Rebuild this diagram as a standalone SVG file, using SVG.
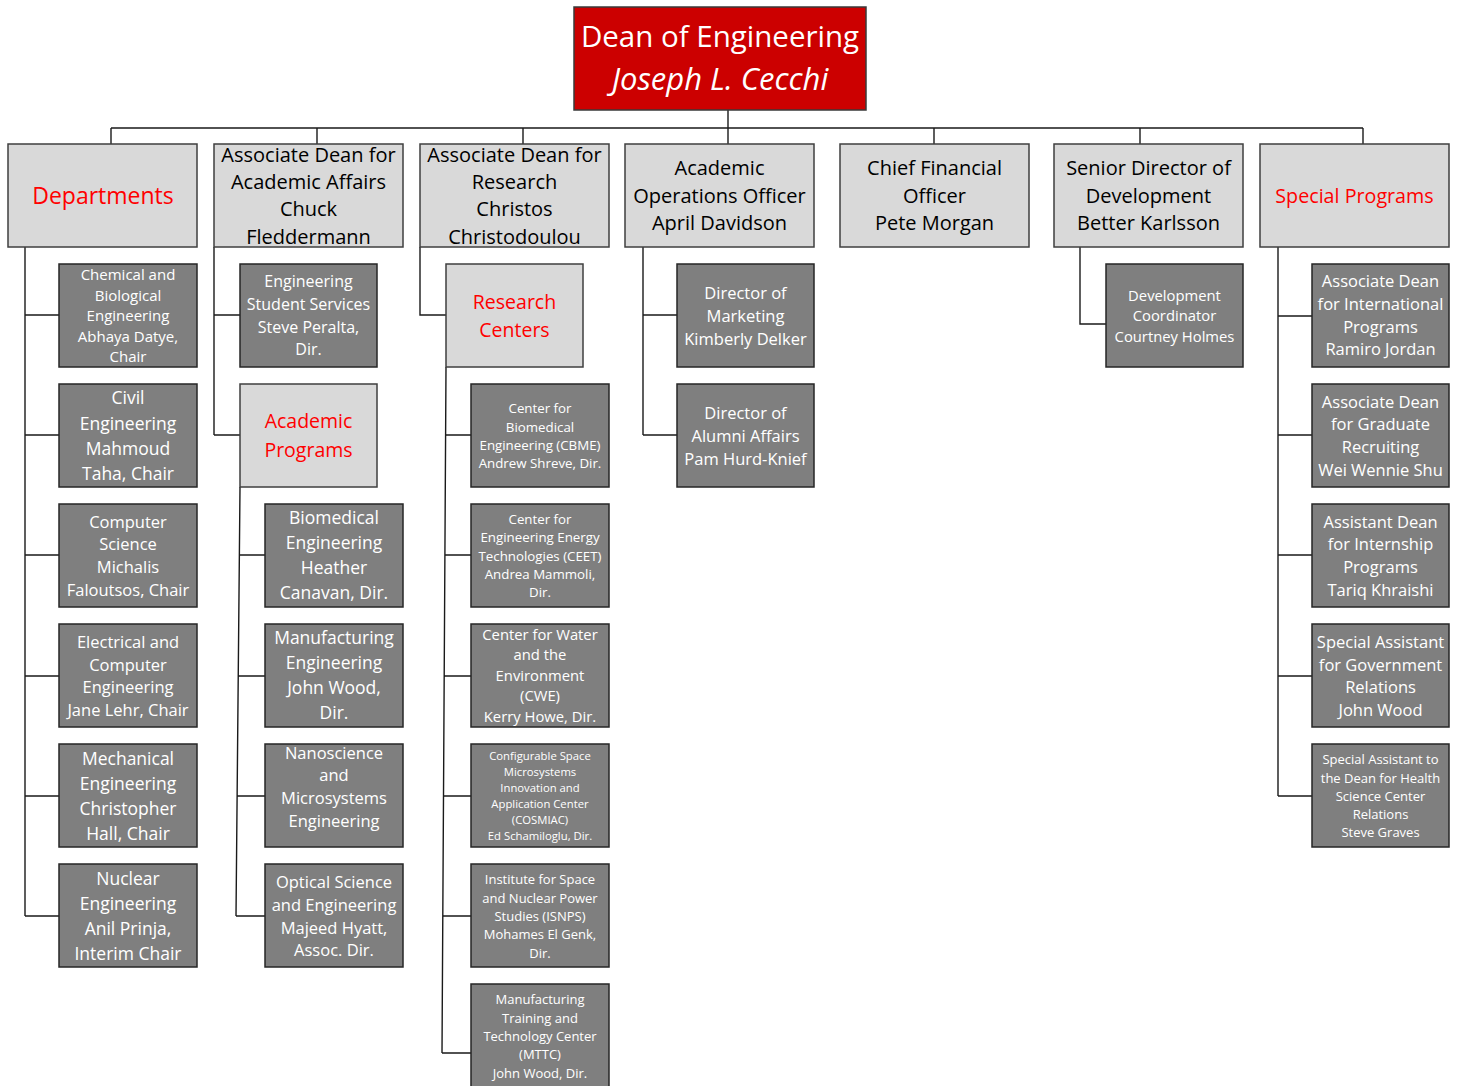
<svg xmlns="http://www.w3.org/2000/svg" width="1459" height="1086" viewBox="0 0 1459 1086">
  <style>
    text { font-family: "Open Sans", "Noto Sans", "Liberation Sans", sans-serif; text-anchor: middle; }
    .dean { fill: #cc0000; stroke: #3a3a3a; stroke-width: 1.5; }
    .lt { fill: #d9d9d9; stroke: #3f3f3f; stroke-width: 1.5; }
    .dk { fill: #7f7f7f; stroke: #262626; stroke-width: 1.5; }
    .tw { fill: #ffffff; }
    .tb { fill: #000000; font-size: 20px; }
    .tr { fill: #ff0000; }
    .conn { fill: none; stroke: #1a1a1a; stroke-width: 1.4; }
  </style>

  <!-- connectors -->
  <g id="connectors" class="conn">
    <path d="M728 110 V128 M111 128 H1363 M111 128 V144 M317 128 V144 M523 128 V144 M728 128 V144 M934 128 V144 M1140 128 V144 M1363 128 V144"/>
    <!-- departments -->
    <path d="M25 247 V916 M25 315 H59 M25 435 H59 M25 555 H59 M25 676 H59 M25 796 H59 M25 916 H59"/>
    <!-- academic affairs -->
    <path d="M214 247 V435 M214 315 H240 M214 435 H240"/>
    <path d="M240 487 L236 916 M239 555 H265 M238 676 H265 M237 796 H265 M236 916 H265"/>
    <!-- research -->
    <path d="M420 247 V315 H446"/>
    <path d="M446 367 L442 1053 M445 435 H471 M445 555 H471 M444 676 H471 M443 796 H471 M443 916 H471 M442 1053 H471"/>
    <!-- academic operations -->
    <path d="M643 247 V435 M643 315 H677 M643 435 H677"/>
    <!-- development -->
    <path d="M1080 247 V324 H1106"/>
    <!-- special programs -->
    <path d="M1278 247 V796 M1278 316 H1312 M1278 435 H1312 M1278 555 H1312 M1278 676 H1312 M1278 796 H1312"/>
  </g>

  <!-- top -->
  <g id="dean">
    <rect class="dean" x="574" y="7" width="292" height="103"/>
    <text class="tw" x="720" y="47" font-size="29.5">Dean of Engineering</text>
    <text class="tw" x="720" y="90" font-size="31" font-style="italic">Joseph L. Cecchi</text>
  </g>

  <!-- second level -->
  <g id="departments">
    <rect class="lt" x="8" y="144" width="189" height="103"/>
    <text class="tr" x="103" y="204" font-size="23">Departments</text>
  </g>
  <g id="assoc-academic">
    <rect class="lt" x="214" y="144" width="189" height="103"/>
    <text class="tb" x="308.5" y="162">Associate Dean for</text>
    <text class="tb" x="308.5" y="189">Academic Affairs</text>
    <text class="tb" x="308.5" y="216">Chuck</text>
    <text class="tb" x="308.5" y="244">Fleddermann</text>
  </g>
  <g id="assoc-research">
    <rect class="lt" x="420" y="144" width="189" height="103"/>
    <text class="tb" x="514.5" y="162">Associate Dean for</text>
    <text class="tb" x="514.5" y="189">Research</text>
    <text class="tb" x="514.5" y="216">Christos</text>
    <text class="tb" x="514.5" y="244">Christodoulou</text>
  </g>
  <g id="academic-ops">
    <rect class="lt" x="625" y="144" width="189" height="103"/>
    <text class="tb" x="719.5" y="175">Academic</text>
    <text class="tb" x="719.5" y="203">Operations Officer</text>
    <text class="tb" x="719.5" y="230">April Davidson</text>
  </g>
  <g id="cfo">
    <rect class="lt" x="840" y="144" width="189" height="103"/>
    <text class="tb" x="934.5" y="175">Chief Financial</text>
    <text class="tb" x="934.5" y="203">Officer</text>
    <text class="tb" x="934.5" y="230">Pete Morgan</text>
  </g>
  <g id="development">
    <rect class="lt" x="1054" y="144" width="189" height="103"/>
    <text class="tb" x="1148.5" y="175">Senior Director of</text>
    <text class="tb" x="1148.5" y="203">Development</text>
    <text class="tb" x="1148.5" y="230">Better Karlsson</text>
  </g>
  <g id="special-programs">
    <rect class="lt" x="1260" y="144" width="189" height="103"/>
    <text class="tr" x="1354.5" y="203" font-size="19.7">Special Programs</text>
  </g>

  <!-- departments -->
  <g id="dept-chem">
    <rect class="dk" x="59" y="264" width="138" height="103"/>
    <g class="tw" font-size="15">
      <text x="128" y="280">Chemical and</text>
      <text x="128" y="301">Biological</text>
      <text x="128" y="321">Engineering</text>
      <text x="128" y="342">Abhaya Datye,</text>
      <text x="128" y="362">Chair</text>
    </g>
  </g>
  <g id="dept-civil">
    <rect class="dk" x="59" y="384" width="138" height="103"/>
    <g class="tw" font-size="17.5">
      <text x="128" y="404">Civil</text>
      <text x="128" y="430">Engineering</text>
      <text x="128" y="455">Mahmoud</text>
      <text x="128" y="480">Taha, Chair</text>
    </g>
  </g>
  <g id="dept-cs">
    <rect class="dk" x="59" y="504" width="138" height="103"/>
    <g class="tw" font-size="16.5">
      <text x="128" y="528">Computer</text>
      <text x="128" y="550">Science</text>
      <text x="128" y="573">Michalis</text>
      <text x="128" y="596">Faloutsos, Chair</text>
    </g>
  </g>
  <g id="dept-ece">
    <rect class="dk" x="59" y="624" width="138" height="103"/>
    <g class="tw" font-size="16.5">
      <text x="128" y="648">Electrical and</text>
      <text x="128" y="671">Computer</text>
      <text x="128" y="693">Engineering</text>
      <text x="128" y="716">Jane Lehr, Chair</text>
    </g>
  </g>
  <g id="dept-mech">
    <rect class="dk" x="59" y="744" width="138" height="103"/>
    <g class="tw" font-size="17.5">
      <text x="128" y="765">Mechanical</text>
      <text x="128" y="790">Engineering</text>
      <text x="128" y="815">Christopher</text>
      <text x="128" y="840">Hall, Chair</text>
    </g>
  </g>
  <g id="dept-nuclear">
    <rect class="dk" x="59" y="864" width="138" height="103"/>
    <g class="tw" font-size="17.5">
      <text x="128" y="885">Nuclear</text>
      <text x="128" y="910">Engineering</text>
      <text x="128" y="935">Anil Prinja,</text>
      <text x="128" y="960">Interim Chair</text>
    </g>
  </g>

  <!-- academic affairs -->
  <g id="student-services">
    <rect class="dk" x="240" y="264" width="137" height="103"/>
    <g class="tw" font-size="16">
      <text x="308.5" y="287">Engineering</text>
      <text x="308.5" y="310">Student Services</text>
      <text x="308.5" y="333">Steve Peralta,</text>
      <text x="308.5" y="355">Dir.</text>
    </g>
  </g>
  <g id="academic-programs">
    <rect class="lt" x="240" y="384" width="137" height="103"/>
    <text class="tr" x="308.5" y="428" font-size="19.5">Academic</text>
    <text class="tr" x="308.5" y="457" font-size="19.5">Programs</text>
  </g>
  <g id="prog-bme">
    <rect class="dk" x="265" y="504" width="138" height="103"/>
    <g class="tw" font-size="17.5">
      <text x="334" y="524">Biomedical</text>
      <text x="334" y="549">Engineering</text>
      <text x="334" y="574">Heather</text>
      <text x="334" y="599">Canavan, Dir.</text>
    </g>
  </g>
  <g id="prog-manufacturing">
    <rect class="dk" x="265" y="624" width="138" height="103"/>
    <g class="tw" font-size="17.5">
      <text x="334" y="644">Manufacturing</text>
      <text x="334" y="669">Engineering</text>
      <text x="334" y="694">John Wood,</text>
      <text x="334" y="719">Dir.</text>
    </g>
  </g>
  <g id="prog-nano">
    <rect class="dk" x="265" y="744" width="138" height="103"/>
    <g class="tw" font-size="16.5">
      <text x="334" y="759">Nanoscience</text>
      <text x="334" y="781">and</text>
      <text x="334" y="804">Microsystems</text>
      <text x="334" y="827">Engineering</text>
    </g>
  </g>
  <g id="prog-optical">
    <rect class="dk" x="265" y="864" width="138" height="103"/>
    <g class="tw" font-size="16.5">
      <text x="334" y="888">Optical Science</text>
      <text x="334" y="911">and Engineering</text>
      <text x="334" y="934">Majeed Hyatt,</text>
      <text x="334" y="956">Assoc. Dir.</text>
    </g>
  </g>

  <!-- research -->
  <g id="research-centers">
    <rect class="lt" x="446" y="264" width="137" height="103"/>
    <text class="tr" x="514.5" y="309" font-size="19.5">Research</text>
    <text class="tr" x="514.5" y="337" font-size="19.5">Centers</text>
  </g>
  <g id="center-cbme">
    <rect class="dk" x="471" y="384" width="138" height="103"/>
    <g class="tw" font-size="13.3">
      <text x="540" y="413">Center for</text>
      <text x="540" y="432">Biomedical</text>
      <text x="540" y="450">Engineering (CBME)</text>
      <text x="540" y="468">Andrew Shreve, Dir.</text>
    </g>
  </g>
  <g id="center-ceet">
    <rect class="dk" x="471" y="504" width="138" height="103"/>
    <g class="tw" font-size="13.3">
      <text x="540" y="524">Center for</text>
      <text x="540" y="542">Engineering Energy</text>
      <text x="540" y="561">Technologies (CEET)</text>
      <text x="540" y="579">Andrea Mammoli,</text>
      <text x="540" y="597">Dir.</text>
    </g>
  </g>
  <g id="center-cwe">
    <rect class="dk" x="471" y="624" width="138" height="103"/>
    <g class="tw" font-size="14.8">
      <text x="540" y="640">Center for Water</text>
      <text x="540" y="660">and the</text>
      <text x="540" y="681">Environment</text>
      <text x="540" y="701">(CWE)</text>
      <text x="540" y="722">Kerry Howe, Dir.</text>
    </g>
  </g>
  <g id="center-cosmiac">
    <rect class="dk" x="471" y="744" width="138" height="103"/>
    <g class="tw" font-size="11.3">
      <text x="540" y="760">Configurable Space</text>
      <text x="540" y="776">Microsystems</text>
      <text x="540" y="792">Innovation and</text>
      <text x="540" y="808">Application Center</text>
      <text x="540" y="824">(COSMIAC)</text>
      <text x="540" y="840">Ed Schamiloglu, Dir.</text>
    </g>
  </g>
  <g id="center-isnps">
    <rect class="dk" x="471" y="864" width="138" height="103"/>
    <g class="tw" font-size="13">
      <text x="540" y="884">Institute for Space</text>
      <text x="540" y="903">and Nuclear Power</text>
      <text x="540" y="921">Studies (ISNPS)</text>
      <text x="540" y="939">Mohames El Genk,</text>
      <text x="540" y="958">Dir.</text>
    </g>
  </g>
  <g id="center-mttc">
    <rect class="dk" x="471" y="984" width="138" height="103"/>
    <g class="tw" font-size="13">
      <text x="540" y="1004">Manufacturing</text>
      <text x="540" y="1023">Training and</text>
      <text x="540" y="1041">Technology Center</text>
      <text x="540" y="1059">(MTTC)</text>
      <text x="540" y="1078">John Wood, Dir.</text>
    </g>
  </g>

  <!-- academic operations -->
  <g id="marketing">
    <rect class="dk" x="677" y="264" width="137" height="103"/>
    <g class="tw" font-size="16.5">
      <text x="745.5" y="299">Director of</text>
      <text x="745.5" y="322">Marketing</text>
      <text x="745.5" y="345">Kimberly Delker</text>
    </g>
  </g>
  <g id="alumni">
    <rect class="dk" x="677" y="384" width="137" height="103"/>
    <g class="tw" font-size="16.5">
      <text x="745.5" y="419">Director of</text>
      <text x="745.5" y="442">Alumni Affairs</text>
      <text x="745.5" y="465">Pam Hurd-Knief</text>
    </g>
  </g>

  <!-- development -->
  <g id="dev-coordinator">
    <rect class="dk" x="1106" y="264" width="137" height="103"/>
    <g class="tw" font-size="14.8">
      <text x="1174.5" y="301">Development</text>
      <text x="1174.5" y="321">Coordinator</text>
      <text x="1174.5" y="342">Courtney Holmes</text>
    </g>
  </g>

  <!-- special programs -->
  <g id="sp-international">
    <rect class="dk" x="1312" y="264" width="137" height="103"/>
    <g class="tw" font-size="16.5">
      <text x="1380.5" y="287">Associate Dean</text>
      <text x="1380.5" y="310">for International</text>
      <text x="1380.5" y="333">Programs</text>
      <text x="1380.5" y="355">Ramiro Jordan</text>
    </g>
  </g>
  <g id="sp-graduate">
    <rect class="dk" x="1312" y="384" width="137" height="103"/>
    <g class="tw" font-size="16.5">
      <text x="1380.5" y="408">Associate Dean</text>
      <text x="1380.5" y="430">for Graduate</text>
      <text x="1380.5" y="453">Recruiting</text>
      <text x="1380.5" y="476">Wei Wennie Shu</text>
    </g>
  </g>
  <g id="sp-internship">
    <rect class="dk" x="1312" y="504" width="137" height="103"/>
    <g class="tw" font-size="16.5">
      <text x="1380.5" y="528">Assistant Dean</text>
      <text x="1380.5" y="550">for Internship</text>
      <text x="1380.5" y="573">Programs</text>
      <text x="1380.5" y="596">Tariq Khraishi</text>
    </g>
  </g>
  <g id="sp-government">
    <rect class="dk" x="1312" y="624" width="137" height="103"/>
    <g class="tw" font-size="16.5">
      <text x="1380.5" y="648">Special Assistant</text>
      <text x="1380.5" y="671">for Government</text>
      <text x="1380.5" y="693">Relations</text>
      <text x="1380.5" y="716">John Wood</text>
    </g>
  </g>
  <g id="sp-health">
    <rect class="dk" x="1312" y="744" width="137" height="103"/>
    <g class="tw" font-size="13">
      <text x="1380.5" y="764">Special Assistant to</text>
      <text x="1380.5" y="783">the Dean for Health</text>
      <text x="1380.5" y="801">Science Center</text>
      <text x="1380.5" y="819">Relations</text>
      <text x="1380.5" y="837">Steve Graves</text>
    </g>
  </g>
</svg>
